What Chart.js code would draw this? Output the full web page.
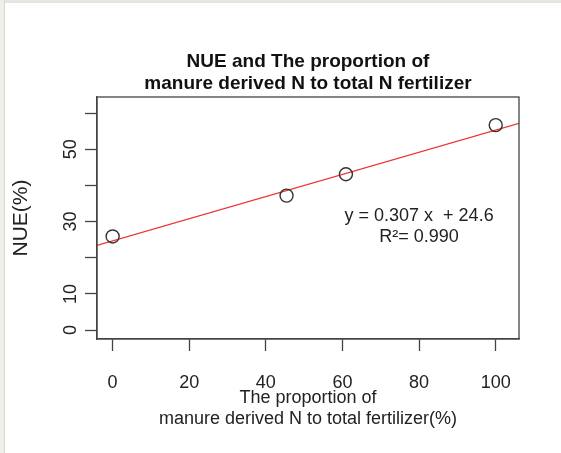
<!DOCTYPE html>
<html><head><meta charset="utf-8">
<script src="https://cdn.jsdelivr.net/npm/chart.js@4"></script>
<style>
html,body{margin:0;padding:0;background:#fff;}
#wrap{position:relative;width:561px;height:453px;overflow:hidden;background:#fff;}
canvas{position:absolute;left:0;top:0;}
.frameTop{position:absolute;left:0;top:0;width:561px;height:3px;background:#e6e6e1;}
.frameLeft{position:absolute;left:0;top:0;width:4px;height:453px;background:#efefea;border-right:1px solid #d8d8d1;}
</style></head>
<body><div id="wrap"><canvas id="c" width="561" height="453"></canvas><div class="frameTop"></div><div class="frameLeft"></div></div>
<script>
const titleLines = ['NUE and The proportion of', 'manure derived N to total N fertilizer'];
const xTitleLines = ['The proportion of', 'manure derived N to total fertilizer(%)'];
const yTitle = 'NUE(%)';
const manureShare = [0, 45.4, 60.9, 100];
const nue = [25.9, 37.2, 43.1, 56.7];
const fitX = [-4.08, 106.08];
const fitY = [23.4, 57.2];
const xTicks = [0, 20, 40, 60, 80, 100];
const yTicks = [0, 10, 20, 30, 40, 50, 60];
const yTickLabels = ['0', '10', '', '30', '', '50', ''];
const annotationText = ['y = 0.307 x  + 24.6', 'R\u00B2= 0.990'];
const annotationX = [80, 80];
const annotationY = [31.5, 25.6];

const FONT = "'Liberation Sans', Arial, Helvetica, sans-serif";
const AXIS = '#444';

const boxPlugin = {
  id: 'box',
  afterDatasetsDraw(chart) {
    const {ctx, chartArea: a} = chart;
    ctx.save();
    ctx.strokeStyle = AXIS;
    ctx.lineWidth = 1.3;
    ctx.strokeRect(a.left, a.top, a.right - a.left, a.bottom - a.top);
    ctx.restore();
  }
};
const annotationPlugin = {
  id: 'annot',
  afterDatasetsDraw(chart) {
    const {ctx, scales} = chart;
    ctx.save();
    ctx.font = '18px ' + FONT;
    ctx.fillStyle = '#222';
    ctx.textAlign = 'center';
    ctx.textBaseline = 'middle';
    annotationText.forEach((t, i) => {
      ctx.fillText(t, scales.x.getPixelForValue(annotationX[i]), scales.y.getPixelForValue(annotationY[i]));
    });
    ctx.restore();
  }
};

new Chart(document.getElementById('c'), {
  type: 'scatter',
  data: {
    datasets: [
      {
        data: fitX.map((x, i) => ({x, y: fitY[i]})),
        showLine: true, borderColor: '#ee3535', borderWidth: 1.3,
        pointRadius: 0, fill: false, order: 2
      },
      {
        data: manureShare.map((x, i) => ({x, y: nue[i]})),
        pointRadius: 6.5, pointBorderColor: '#333', pointBorderWidth: 1.4,
        pointBackgroundColor: 'rgba(0,0,0,0)', showLine: false, order: 1
      }
    ]
  },
  options: {
    responsive: false, devicePixelRatio: 1, animation: false,
    layout: {padding: {left: 0, right: 42, top: 0, bottom: 0}},
    plugins: {
      legend: {display: false},
      tooltip: {enabled: false},
      title: {
        display: true, text: titleLines, fullSize: false,
        font: {family: FONT, size: 19, weight: 'bold', lineHeight: 1.2},
        color: '#111', padding: {top: 50, bottom: 1.4}
      }
    },
    scales: {
      x: {
        type: 'linear', min: -4.08, max: 106.08,
        afterBuildTicks: s => { s.ticks = xTicks.map(v => ({value: v})); },
        afterFit: s => { s.height = 114; },
        grid: {drawOnChartArea: false, drawTicks: true, tickLength: 12, tickColor: AXIS, tickWidth: 1.3},
        border: {display: true, color: AXIS, width: 1.3},
        ticks: {font: {family: FONT, size: 18}, color: '#222', padding: 21, maxRotation: 0, autoSkip: false},
        title: {display: true, text: xTitleLines, font: {family: FONT, size: 18, lineHeight: 1.15}, color: '#222', padding: {top: 0, bottom: 24}}
      },
      y: {
        type: 'linear', min: -2.48, max: 64.48,
        afterBuildTicks: s => { s.ticks = yTicks.map(v => ({value: v})); },
        afterFit: s => { s.width = 97; },
        grid: {drawOnChartArea: false, drawTicks: true, tickLength: 12, tickColor: AXIS, tickWidth: 1.3},
        border: {display: true, color: AXIS, width: 1.3},
        ticks: {
          callback: (v, i) => yTickLabels[i],
          font: {family: FONT, size: 18}, color: '#222', padding: 4,
          minRotation: 90, maxRotation: 90, crossAlign: 'center', autoSkip: false
        },
        title: {display: true, text: yTitle, font: {family: FONT, size: 21}, color: '#222', padding: {top: 9, bottom: 0}}
      }
    }
  },
  plugins: [boxPlugin, annotationPlugin]
});
</script>
</body></html>
